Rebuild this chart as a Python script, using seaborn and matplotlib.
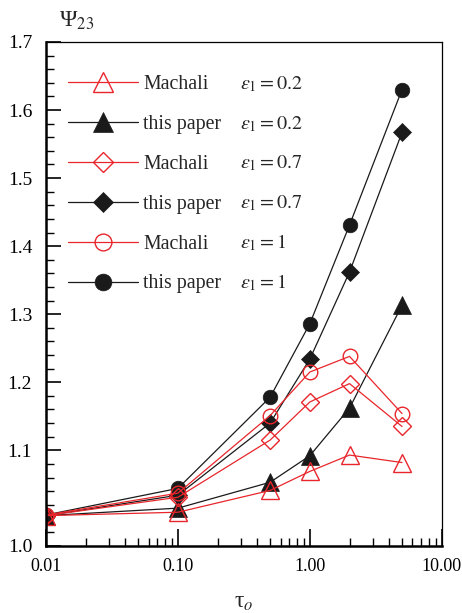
import seaborn as sns
import numpy as np
import pandas as pd
from matplotlib import pyplot as plt
from matplotlib.ticker import FixedLocator, FixedFormatter, MultipleLocator, LogLocator, NullFormatter

# relaxation time values (x)
tau = [0.01, 0.1, 0.5, 1.0, 2.0, 5.0]

# Psi_23
machali_02 = [1.004, 1.009, 1.041, 1.069, 1.093, 1.082]
paper_02 = [1.004, 1.015, 1.053, 1.092, 1.162, 1.313]
machali_07 = [1.004, 1.031, 1.115, 1.171, 1.198, 1.135]
paper_07 = [1.004, 1.034, 1.140, 1.234, 1.362, 1.567]
machali_1 = [1.005, 1.037, 1.151, 1.215, 1.238, 1.154]
paper_1 = [1.005, 1.044, 1.178, 1.286, 1.431, 1.630]

sources = ['Machali', 'this paper', 'Machali', 'this paper', 'Machali', 'this paper']
eps_labels = [r'$\varepsilon_1 = 0.2$', r'$\varepsilon_1 = 0.2$',
              r'$\varepsilon_1 = 0.7$', r'$\varepsilon_1 = 0.7$',
              r'$\varepsilon_1 = 1$', r'$\varepsilon_1 = 1$']

xticks = [0.01, 0.1, 1.0, 10.0]
xtick_labels = ['0.01', '0.10', '1.00', '10.00']
# the bottom label of the original sits at the axis floor
yticks = [0.96, 1.1, 1.2, 1.3, 1.4, 1.5, 1.6, 1.7]
ytick_labels = ['1.0', '1.1', '1.2', '1.3', '1.4', '1.5', '1.6', '1.7']

all_values = [machali_02, paper_02, machali_07, paper_07, machali_1, paper_1]
df = pd.concat([pd.DataFrame({'tau': tau, 'psi': v, 'idx': i})
                for i, v in enumerate(all_values)], ignore_index=True)

RED = '#e8262b'
BLACK = '#1a1a1a'
markers = ['^', '^', 'D', 'D', 'o', 'o']
msizes = [13, 13, 9, 9, 10.5, 10.5]

sns.set_theme(style='ticks')
plt.rcParams['font.family'] = ['Liberation Serif', 'DejaVu Serif']
plt.rcParams['mathtext.fontset'] = 'stix'

fig = plt.figure(figsize=(4.62, 6.13), dpi=100)
ax = fig.add_axes([0.0996, 0.110, 0.8565, 0.8215])

# black curves first, red on top
lines = {}
for i in [1, 3, 5, 0, 2, 4]:
    red = sources[i] == 'Machali'
    col = RED if red else BLACK
    sns.lineplot(data=df[df['idx'] == i], x='tau', y='psi', ax=ax,
                 color=col, lw=0.9, marker=markers[i], markersize=msizes[i],
                 mfc='none' if red else col, mec=col, mew=1.0 if red else 0.5,
                 legend=False)
    lines[i] = ax.lines[-1]

ax.set_xscale('log')
ax.set_xlim(0.01, 10)
ax.set_ylim(0.96, 1.7)

ax.xaxis.set_major_locator(FixedLocator(xticks))
ax.xaxis.set_major_formatter(FixedFormatter(xtick_labels))
ax.xaxis.set_minor_locator(LogLocator(base=10, subs=np.arange(2, 10)))
ax.xaxis.set_minor_formatter(NullFormatter())
ax.yaxis.set_major_locator(FixedLocator(yticks))
ax.yaxis.set_major_formatter(FixedFormatter(ytick_labels))
ax.yaxis.set_minor_locator(MultipleLocator(0.02))

ax.tick_params(which='both', direction='in', colors='black', labelsize=14,
               top=False, right=False)
ax.tick_params(axis='x', which='major', length=12, width=1.2, pad=9, labelsize=13)
ax.tick_params(axis='x', which='minor', length=6, width=1.0)
ax.tick_params(axis='y', which='major', length=11, width=1.2, pad=10)
ax.tick_params(axis='y', which='minor', length=6, width=1.0)

for s in ['left', 'bottom']:
    ax.spines[s].set_linewidth(1.8)
for s in ['top', 'right']:
    ax.spines[s].set_linewidth(0.9)
for s in ax.spines.values():
    s.set_color('black')

ax.set_xlabel('τ$_{o}$', fontsize=17, labelpad=12)
ax.set_ylabel('')
fig.text(0.128, 1 - 27 / 613, 'Ψ$_{23}$', fontsize=17, va='baseline')

ax.legend([lines[i] for i in range(6)], sources, loc='upper left',
          bbox_to_anchor=(0.0556, 0.934), frameon=False, handlelength=3.5,
          handletextpad=0.3, labelspacing=1.05, borderpad=0, borderaxespad=0,
          fontsize=14.3, markerscale=1.15)

for i, lab in enumerate(eps_labels):
    ax.text(0.49, 0.916 - i * 0.0790, lab, transform=ax.transAxes,
            fontsize=14.5, va='center', ha='left')

fig.savefig('out.png', dpi=100)
